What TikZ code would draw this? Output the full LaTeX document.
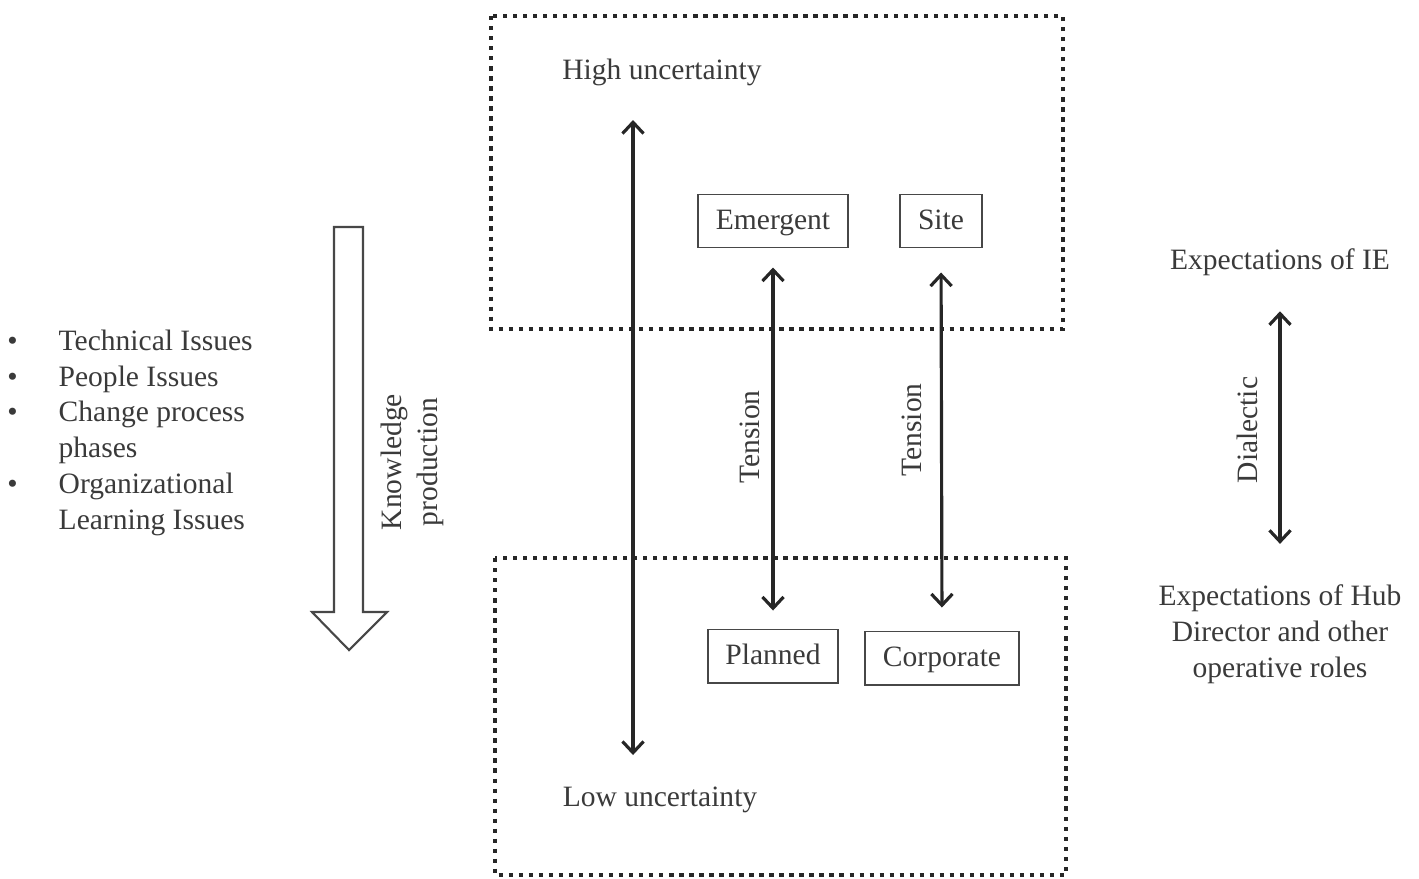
\documentclass[tikz,border=0pt]{standalone}
\usepackage{fontspec}
\setmainfont{Liberation Serif}
\usetikzlibrary{arrows.meta}

\definecolor{ink}{HTML}{262626}
\definecolor{txt}{HTML}{3A3A3A}
\tikzset{
  lbl/.style={text=txt, font=\fontsize{8.4}{10.2}\selectfont, inner sep=0pt},
  tag/.style={lbl, draw=ink!85, line width=0.55pt, inner xsep=5pt, text height=1.55ex, text depth=0.45ex, minimum height=0.53cm},
  zone/.style={draw=ink, line width=1.25pt, dash pattern=on 1.25pt off 1.6pt},
  dbl/.style={draw=ink, line width=0.9pt, {Straight Barb[length=3.2pt,width=6pt]}-{Straight Barb[length=3.2pt,width=6pt]}}
}
\newcommand{\itm}{\llap{\textbullet\hspace{0.41cm}}}

\begin{document}
\begin{tikzpicture}[x=0.01cm, y=-0.01cm]
\useasboundingbox (0,0) rectangle (1419,878);

% uncertainty zones
\draw[zone] (491,16) rectangle (1063,329);
\draw[zone] (495,558) rectangle (1066,875);
\node[lbl] (high) at (662,72) {High uncertainty};
\node[lbl] (low) at (660,800) {Low uncertainty};
\coordinate (hightip) at (633,120);
\coordinate (lowtip) at (633,755);
\draw[dbl] (hightip) -- (lowtip);

% strategy pairs
\node[tag] (emergent) at (773,221) {Emergent};
\node[tag] (site) at (941,221) {Site};
\node[tag] (planned) at (773,656) {Planned};
\node[tag] (corporate) at (942,658) {Corporate};
\draw[dbl, shorten <=0.19cm, shorten >=0.18cm] (emergent.south) -- (planned.north);
\draw[dbl, shorten <=0.24cm, shorten >=0.23cm] (site.south) -- (corporate.north);
\node[lbl, rotate=90] (tension1) at (750,437) {Tension};
\node[lbl, rotate=90] (tension2) at (912,430) {Tension};

% expectations
\node[lbl] (ie) at (1280,262) {Expectations of IE};
\node[lbl, align=center] (hub) at (1280,634) {Expectations of Hub\\Director and other\\operative roles};
\draw[dbl, shorten <=0.35cm, shorten >=0.40cm] (ie.south) -- (hub.north);
\node[lbl, rotate=90] (dialectic) at (1247,430) {Dialectic};

% issues list
\node[lbl, align=left, anchor=north west] (issues) at (58,329)
  {\itm Technical Issues\\\itm People Issues\\\itm Change process\\phases\\\itm Organizational\\Learning Issues};

% knowledge production arrow
\draw[ink!85, line width=0.6pt, fill=white]
  (334,227) -- (363,227) -- (363,612) -- (387,612) -- (349,650)
  -- (312,612) -- (334,612) -- cycle;
\node[lbl, rotate=90, align=center] (knowledge) at (412,462) {Knowledge\\production};
\end{tikzpicture}
\end{document}
